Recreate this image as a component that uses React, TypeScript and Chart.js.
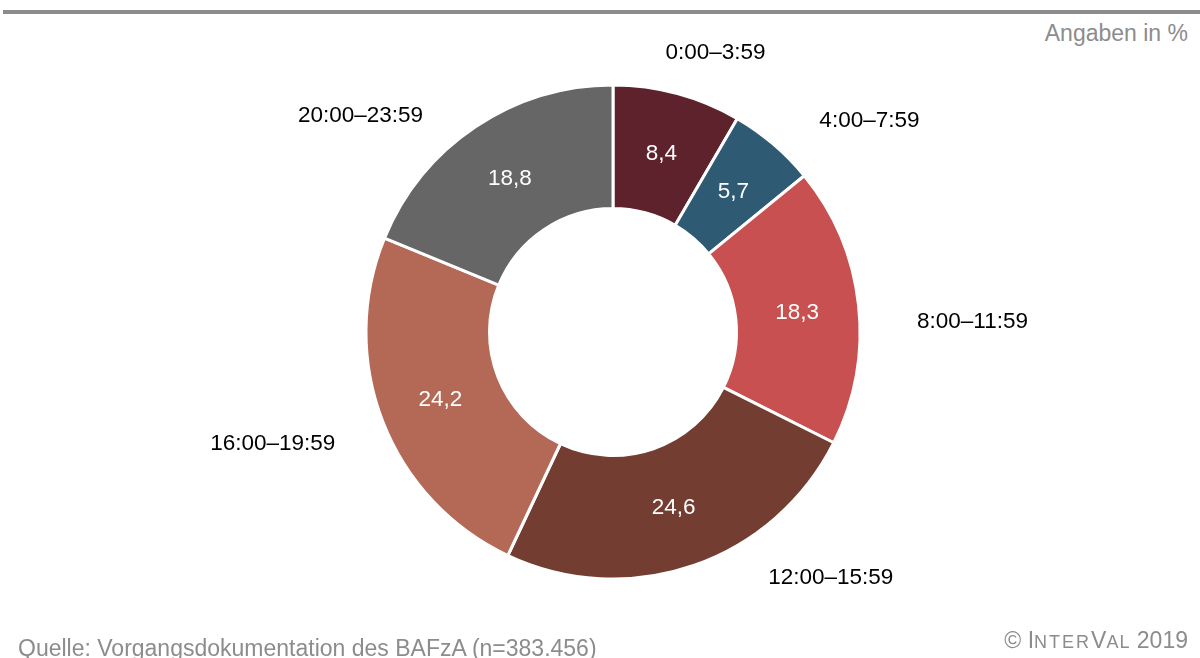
import React, { useEffect, useRef } from "react";
import { Chart, registerables } from "chart.js";

Chart.register(...registerables);

const categories = ["0:00–3:59", "4:00–7:59", "8:00–11:59", "12:00–15:59", "16:00–19:59", "20:00–23:59"];
const values = [8.4, 5.7, 18.3, 24.6, 24.2, 18.8];
const colors = ["#5e222d", "#2f5a74", "#c85050", "#733e31", "#b46856", "#666666"];
// offsets (px) of each category label from the outer midpoint of its slice
const labelOffsets = [
  [38, -41],
  [96, -23],
  [114, 17],
  [137, 12],
  [-110, 22],
  [-115, -11],
];

const FONT = "'Liberation Sans', Arial, Helvetica, sans-serif";

const labelPlugin = {
  id: "sliceLabels",
  afterDatasetsDraw(chart: any) {
    const ctx = chart.ctx;
    const meta = chart.getDatasetMeta(0);
    ctx.save();
    ctx.textAlign = "center";
    ctx.textBaseline = "middle";
    meta.data.forEach((arc: any, i: number) => {
      const p = arc.getProps(["x", "y", "startAngle", "endAngle", "innerRadius", "outerRadius"], true);
      const mid = (p.startAngle + p.endAngle) / 2;
      const rMid = (p.innerRadius + p.outerRadius) / 2;
      ctx.font = `22.5px ${FONT}`;
      ctx.fillStyle = "#ffffff";
      ctx.fillText(
        values[i].toFixed(1).replace(".", ","),
        p.x + Math.cos(mid) * rMid,
        p.y + Math.sin(mid) * rMid + 1
      );
      const ox = p.x + Math.cos(mid) * p.outerRadius + labelOffsets[i][0];
      const oy = p.y + Math.sin(mid) * p.outerRadius + labelOffsets[i][1];
      ctx.fillStyle = "#000000";
      ctx.fillText(categories[i], ox, oy);
    });
    ctx.restore();
  },
};

export default function App() {
  const ref = useRef<HTMLCanvasElement>(null);

  useEffect(() => {
    document.body.style.margin = "0";
    const chart = new Chart(ref.current as HTMLCanvasElement, {
      type: "doughnut",
      data: {
        labels: categories,
        datasets: [
          {
            data: values,
            backgroundColor: colors,
            borderColor: "#ffffff",
            borderWidth: 3,
          },
        ],
      },
      options: {
        animation: false,
        responsive: false,
        radius: 247,
        cutout: "50%",
        layout: { padding: { left: 26, top: 6, right: 0, bottom: 0 } },
        plugins: {
          legend: { display: false },
          tooltip: { enabled: false },
        },
      } as any,
      plugins: [labelPlugin],
    });
    return () => chart.destroy();
  }, []);

  return (
    <div
      style={{
        position: "fixed",
        left: 0,
        top: 0,
        width: 1200,
        height: 658,
        overflow: "hidden",
        background: "#ffffff",
        fontFamily: FONT,
      }}
    >
      <div style={{ position: "absolute", left: 3, right: 0, top: 10, height: 4, background: "#8c8c8c" }} />
      <div
        style={{
          position: "absolute",
          right: 12,
          top: 19,
          fontSize: 23,
          color: "#8c8c8c",
          lineHeight: "28px",
          whiteSpace: "nowrap",
        }}
      >
        Angaben in %
      </div>
      <canvas ref={ref} width={1200} height={658} style={{ position: "absolute", left: 0, top: 0 }} />
      <div
        style={{
          position: "absolute",
          left: 18,
          top: 634,
          fontSize: 23,
          color: "#8c8c8c",
          lineHeight: "28px",
          whiteSpace: "nowrap",
        }}
      >
        Quelle: Vorgangsdokumentation des BAFzA (n=383.456)
      </div>
      <div
        style={{
          position: "absolute",
          right: 12,
          top: 626,
          fontSize: 23,
          color: "#8c8c8c",
          lineHeight: "28px",
          whiteSpace: "nowrap",
        }}
      >
        © I<span style={{ fontSize: 18, letterSpacing: 2 }}>NTER</span>V<span style={{ fontSize: 18, letterSpacing: 1 }}>AL</span> 2019
      </div>
    </div>
  );
}
